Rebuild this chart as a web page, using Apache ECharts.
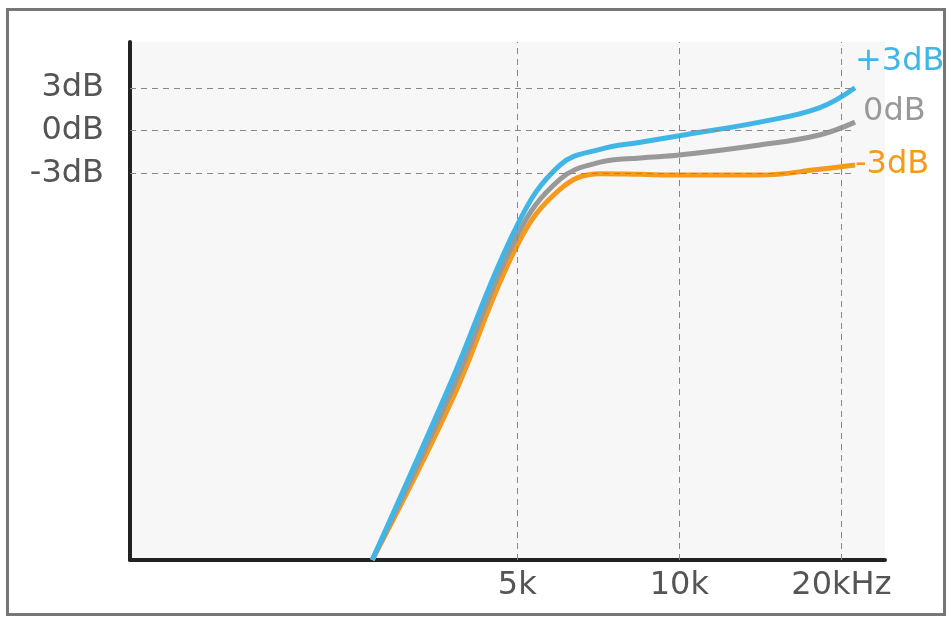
<!DOCTYPE html>
<html>
<head>
<meta charset="utf-8">
<title>Treble response</title>
<script src="https://cdn.jsdelivr.net/npm/echarts@6/dist/echarts.min.js"></script>
<style>
  html, body { margin: 0; padding: 0; background: #fff; }
  #frame { position: absolute; left: 6px; top: 8px; width: 934px; height: 602px; border: 3px solid #777; }
  #main { position: absolute; left: 0; top: 0; width: 952px; height: 625px; }
</style>
</head>
<body>
<div id="frame"></div>
<div id="main"></div>
<script>
// frequency points (Hz) and gain (dB) per curve
var freqs = [2688, 3753, 5000, 6000, 7126, 8470, 10000, 14100, 18200, 21200];
var plus3 = [-30, -17.7, -6.6, -2.4, -1.3, -0.8, -0.35, 0.6, 1.6, 3.0];
var zero  = [-30, -18.4, -7.3, -3.4, -2.2, -1.9, -1.7, -1.0, -0.3, 0.6];
var minus3 = [-30, -19.1, -8.0, -4.1, -3.0, -3.05, -3.1, -3.1, -2.7, -2.4];
var xTicks = [[5000, '5k'], [10000, '10k'], [20000, '20kHz']];
var yTicks = [[3, '3dB'], [0, '0dB'], [-3, '-3dB']];

function pairs(v) { return freqs.map(function (f, i) { return [f, v[i]]; }); }

var font = { fontFamily: 'DejaVu Sans', fontSize: 32, color: '#555' };
var dash = { type: [6, 5], color: '#888', width: 1 };

var chart = echarts.init(document.getElementById('main'));

var guides = xTicks.map(function (t) {
  return { xAxis: t[0], label: Object.assign({ formatter: t[1], position: 'start', distance: 10 }, font) };
}).concat(yTicks.map(function (t) {
  return [{ coord: [954, t[0]], label: Object.assign({ formatter: t[1], position: 'start', distance: 26 }, font) },
          { coord: [21000, t[0]] }];
}));

function curve(name, data, color, label, offset) {
  return {
    name: name, type: 'line', smooth: 0.4, symbol: 'none', data: pairs(data),
    lineStyle: { color: color, width: 5 },
    endLabel: { show: true, formatter: label, color: color, fontFamily: 'DejaVu Sans', fontSize: 32, offset: offset }
  };
}

var series = [
  curve('-3dB', minus3, '#f59a1b', '-3dB', [-8, 0]),
  curve('0dB', zero, '#999999', '0dB', [0, -10]),
  curve('+3dB', plus3, '#41b6e6', '+3dB', [-8, -26])
];
series[0].markLine = { silent: true, symbol: 'none', lineStyle: dash, data: guides };

chart.setOption({
  animation: false,
  grid: { left: 130, right: 67, top: 42, bottom: 65, show: true, backgroundColor: '#f7f7f7', borderWidth: 0 },
  xAxis: {
    type: 'log', logBase: 2, min: 954, max: 24100,
    axisLine: { show: true, onZero: false, lineStyle: { color: '#222', width: 4 } },
    axisTick: { show: false }, axisLabel: { show: false }, splitLine: { show: false }
  },
  yAxis: {
    type: 'value', min: -30, max: 6.2,
    axisLine: { show: true, onZero: false, lineStyle: { color: '#222', width: 4 } },
    axisTick: { show: false }, axisLabel: { show: false }, splitLine: { show: false }
  },
  series: series
});
</script>
</body>
</html>
